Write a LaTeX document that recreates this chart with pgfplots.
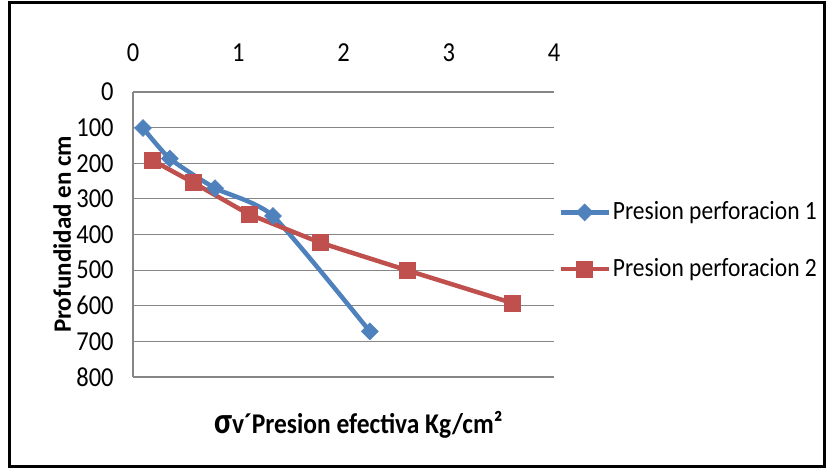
\documentclass[border=0pt]{standalone}
\usepackage{pgfplots}
\pgfplotsset{compat=1.18}
\usepackage{fontspec}
\setmainfont{Carlito}
\definecolor{serieA}{HTML}{4F81BD}
\definecolor{serieB}{HTML}{C0504D}
\definecolor{rejilla}{HTML}{868686}
\newcommand\chartfont{\fontsize{24.5bp}{29bp}\selectfont}
\newcommand\legendfont{\fontsize{23.5bp}{28bp}\selectfont}
\begin{document}
\begin{tikzpicture}
\chartfont
% chart frame
\fill[white] (0bp,0bp) rectangle (828bp,470bp);
\draw[line width=3bp,black] (9bp,3.5bp) rectangle (824.5bp,467bp);
\begin{axis}[
  at={(133bp,93bp)}, anchor=south west,
  scale only axis, width=421bp, height=285bp,
  xmin=0, xmax=4, ymin=0, ymax=800,
  y dir=reverse,
  axis x line*=top, axis y line*=left,
  x axis line style={draw=none},
  y axis line style={rejilla, line width=1.2bp},
  xtick={0,1,2,3,4}, ytick={0,100,...,800},
  major tick length=0pt,
  ymajorgrids, grid style={rejilla, line width=1.2bp},
  /pgf/number format/assume math mode=true,
  ticklabel style={font=\chartfont, yscale=1.12},
  xticklabel style={yshift=19bp},
  yticklabel style={xshift=-11bp},
  legend style={draw=none, fill=none, at={(rel axis cs:1.01,0.625)}, anchor=north west,
    font=\legendfont, row sep=30bp, inner sep=0pt,
    nodes={yscale=1.12},
    /tikz/every even column/.append style={column sep=2bp}},
  legend cell align=left,
  legend image code/.code={\draw[mark repeat=2,mark phase=2] plot coordinates {(0bp,0bp) (24bp,0bp) (48bp,0bp)};},
  clip=false,
]
\addplot[serieA, line width=4.5bp, smooth, tension=0.35,
  mark=square*, mark size=6bp, mark options={rotate=45, line width=0.5bp, fill=serieA, draw=serieA}]
  coordinates {(0.095,101) (0.35,187) (0.78,270) (1.33,348) (2.25,672)};
\addlegendentry{Presion perforacion 1}
\addplot[serieB, line width=4.5bp,
  mark=square*, mark size=8bp, mark options={line width=0.5bp, fill=serieB, draw=serieB}]
  coordinates {(0.18,191) (0.57,254) (1.10,343) (1.78,423) (2.61,501) (3.60,592)};
\addlegendentry{Presion perforacion 2}
\node[font=\fontsize{25bp}{30bp}\selectfont\bfseries, rotate=90, anchor=center]
  at (rel axis cs:-0.168,0.5) {Profundidad en cm};
\node[font=\fontsize{25.5bp}{30bp}\selectfont\bfseries, yscale=1.12, anchor=center] at (rel axis cs:0.535,-0.168)
  {{\fontsize{33bp}{33bp}\selectfont σ}v´Presion efectiva Kg/cm²};
\end{axis}
\end{tikzpicture}
\end{document}
